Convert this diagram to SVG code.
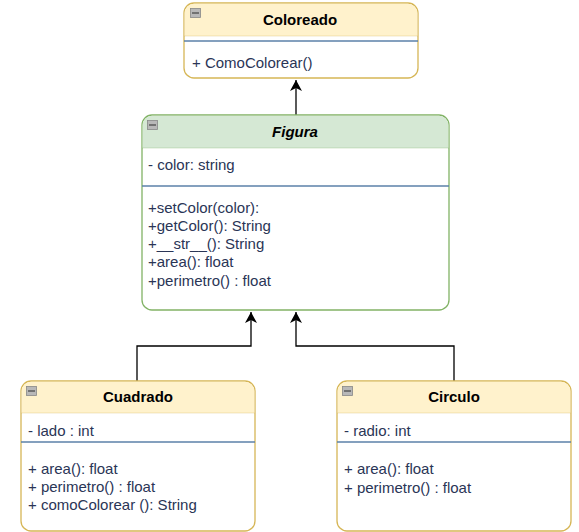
<svg xmlns="http://www.w3.org/2000/svg" width="579" height="532" viewBox="0 0 579 532">
<style>
text{font-family:"Liberation Sans",Arial,sans-serif;font-size:15px;fill:#2a3556}
.t{font-weight:bold;fill:#000;text-anchor:middle}
.yb{fill:#fff;stroke:#d6b656;stroke-width:1.3}
.yh{fill:#fff2cc}
.gb{fill:#fff;stroke:#82b366;stroke-width:1.3}
.gh{fill:#d5e8d4}
.sep{stroke:#5b80a8;stroke-width:1.3}
.edge{fill:none;stroke:#000;stroke-width:1.3}
.ic{fill:#b8b8b8;stroke:#888;stroke-width:0.8}
.icl{stroke:#444;stroke-width:1.2}
</style>
<defs>
<marker id="arr" viewBox="0 0 12 12" refX="11" refY="6" markerWidth="12" markerHeight="12" markerUnits="userSpaceOnUse" orient="auto">
<path d="M0,0 L11,6 L0,12 L3,6 z" fill="#000"/>
</marker>
</defs>
<g id="connectors">
<path class="edge" d="M296,115 L296,80" marker-end="url(#arr)"/>
<path class="edge" d="M137,381 L137,346 L251,346 L251,312" marker-end="url(#arr)"/>
<path class="edge" d="M454,381 L454,346 L296,346 L296,312" marker-end="url(#arr)"/>
</g>
<g id="coloreado">
<rect class="yb" x="184" y="3" width="234" height="75" rx="10"/>
<path class="yh" d="M194,3.7 H408 A9.3,9.3 0 0 1 417.3,13 V36 H184.7 V13 A9.3,9.3 0 0 1 194,3.7 Z"/>
<line x1="184" y1="36" x2="418" y2="36" stroke="#d6b656" stroke-width="0.6" opacity="0.5"/>
<line class="sep" x1="184" y1="41" x2="418" y2="41"/>
<rect class="ic" x="190.5" y="8.5" width="10" height="9"/>
<line class="icl" x1="192" y1="13" x2="199" y2="13"/>
<text class="t" x="300" y="25">Coloreado</text>
<text x="192" y="68">+ ComoColorear()</text>
</g>
<g id="figura">
<rect class="gb" x="142" y="115" width="307" height="195" rx="10"/>
<path class="gh" d="M152,115.7 H439 A9.3,9.3 0 0 1 448.3,125 V148 H142.7 V125 A9.3,9.3 0 0 1 152,115.7 Z"/>
<line x1="142" y1="148" x2="449" y2="148" stroke="#82b366" stroke-width="0.6" opacity="0.5"/>
<line class="sep" x1="142" y1="186" x2="449" y2="186"/>
<rect class="ic" x="147.5" y="120.5" width="10" height="9"/>
<line class="icl" x1="149" y1="125" x2="156" y2="125"/>
<text class="t" x="295" y="137" font-style="italic">Figura</text>
<text x="148" y="170">- color: string</text>
<text x="148" y="213">+setColor(color):</text>
<text x="148" y="231">+getColor(): String</text>
<text x="148" y="249">+__str__(): String</text>
<text x="148" y="267">+area(): float</text>
<text x="148" y="286">+perimetro() : float</text>
</g>
<g id="cuadrado">
<rect class="yb" x="21" y="381" width="234" height="150" rx="10"/>
<path class="yh" d="M31,381.7 H245 A9.3,9.3 0 0 1 254.3,391 V413 H21.7 V391 A9.3,9.3 0 0 1 31,381.7 Z"/>
<line x1="21" y1="413" x2="255" y2="413" stroke="#d6b656" stroke-width="0.6" opacity="0.5"/>
<line class="sep" x1="21" y1="442" x2="255" y2="442"/>
<rect class="ic" x="26.5" y="386.5" width="10" height="9"/>
<line class="icl" x1="28" y1="391" x2="35" y2="391"/>
<text class="t" x="138" y="402">Cuadrado</text>
<text x="28" y="436">- lado : int</text>
<text x="28" y="474">+ area(): float</text>
<text x="28" y="492">+ perimetro() : float</text>
<text x="28" y="510">+ comoColorear (): String</text>
</g>
<g id="circulo">
<rect class="yb" x="337" y="381" width="234" height="150" rx="10"/>
<path class="yh" d="M347,381.7 H561 A9.3,9.3 0 0 1 570.3,391 V413 H337.7 V391 A9.3,9.3 0 0 1 347,381.7 Z"/>
<line x1="337" y1="413" x2="571" y2="413" stroke="#d6b656" stroke-width="0.6" opacity="0.5"/>
<line class="sep" x1="337" y1="442" x2="571" y2="442"/>
<rect class="ic" x="342.5" y="386.5" width="10" height="9"/>
<line class="icl" x1="344" y1="391" x2="351" y2="391"/>
<text class="t" x="454" y="402">Circulo</text>
<text x="344" y="436">- radio: int</text>
<text x="344" y="474">+ area(): float</text>
<text x="344" y="493">+ perimetro() : float</text>
</g>
</svg>
